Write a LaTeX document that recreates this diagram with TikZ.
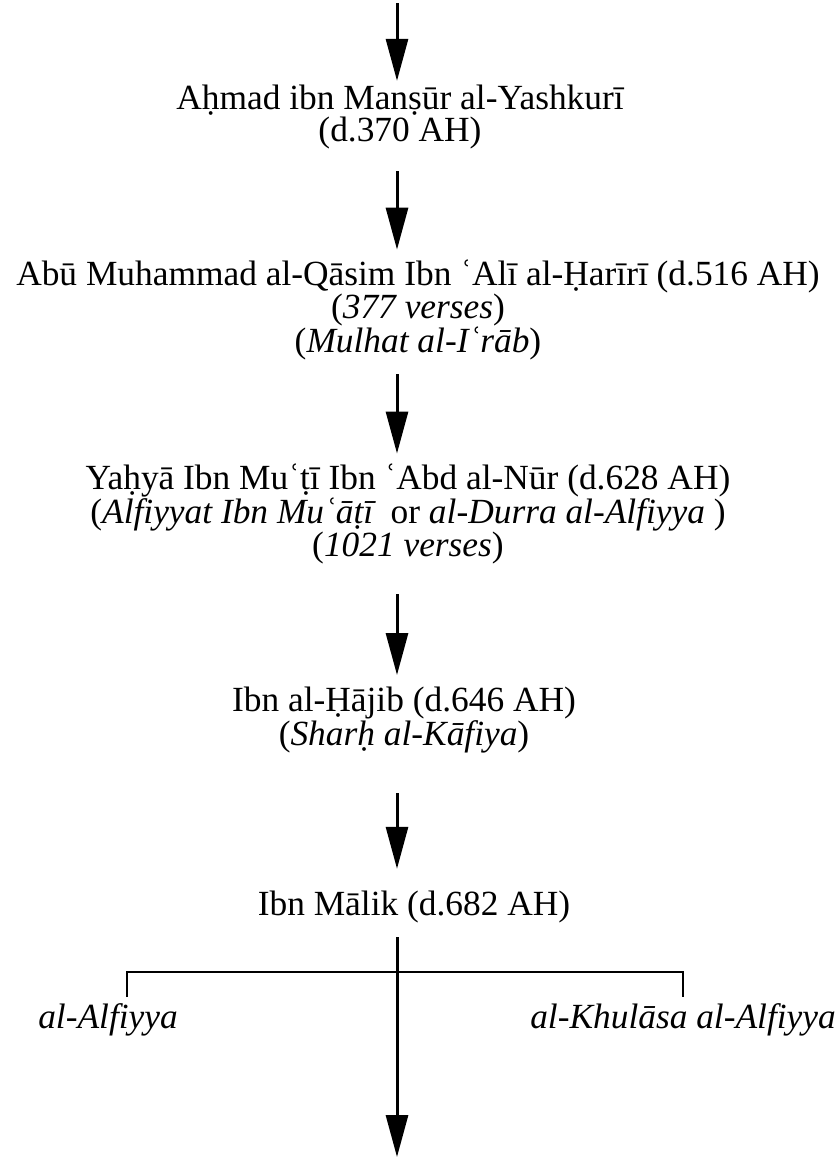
\documentclass[tikz,border=0pt]{standalone}
\usepackage{fontspec}
\setmainfont{Liberation Serif}
\usetikzlibrary{arrows.meta}
\tikzset{
  lbl/.style={align=center,font=\fontsize{35.5}{32}\selectfont,inner sep=0pt},
  flow/.style={-{Triangle[length=42bp,width=22bp]},line width=3bp},
  bar/.style={line width=2.6bp},
}

\begin{document}
\begin{tikzpicture}[x=1bp,y=-1bp]
\useasboundingbox (0,0) rectangle (837,1159);

\coordinate (col) at (397,0);
\coordinate (top) at (397,3);

\node[lbl] (ahmad) at (400,117) {Aḥmad ibn Manṣūr al-Yashkurī\\(d.370 AH)};
\node[lbl] (hariri) at (418,310) {Abū Muhammad al-Qāsim Ibn ʿAlī al-Ḥarīrī (d.516 AH)\\(\textit{377 verses})\\(\textit{Mulhat al-Iʿrāb})};
\node[lbl] (yahya) at (408,514) {Yaḥyā Ibn Muʿṭī Ibn ʿAbd al-Nūr (d.628 AH)\\(\textit{Alfiyyat Ibn Muʿāṭī}\, or \textit{al-Durra al-Alfiyya} )\\(\textit{1021 verses})};
\node[lbl] (hajib) at (404,720) {Ibn al-Ḥājib (d.646 AH)\\(\textit{Sharḥ al-Kāfiya})};
\node[lbl] (malik) at (414,907) {Ibn Mālik (d.682 AH)};
\node[lbl] (alfiyya) at (108,1020) {\textit{al-Alfiyya}};
\node[lbl] (khulasa) at (683,1020) {\textit{al-Khulāsa al-Alfiyya}};

\draw[flow] (top) -- ([yshift=4bp]col |- ahmad.north);
\draw[flow,shorten <=22bp,shorten >=10bp] (col |- ahmad.south) -- (col |- hariri.north);
\draw[flow,shorten <=14bp,shorten >=10bp] (col |- hariri.south) -- (col |- yahya.north);
\draw[flow,shorten <=30bp,shorten >=12bp] (col |- yahya.south) -- (col |- hajib.north);
\draw[flow,shorten <=40bp,shorten >=22bp] (col |- hajib.south) -- (col |- malik.north);

% split below Ibn Malik
\coordinate (forkl) at (127,972);
\coordinate (forkr) at (683,972);
\coordinate (bottom) at (397,1157);
\draw[bar] ([yshift=-25bp]forkl) -- (forkl) -- (forkr) -- ([yshift=-25bp]forkr);
\draw[flow,shorten <=14bp] (col |- malik.south) -- (bottom);

\end{tikzpicture}
\end{document}
